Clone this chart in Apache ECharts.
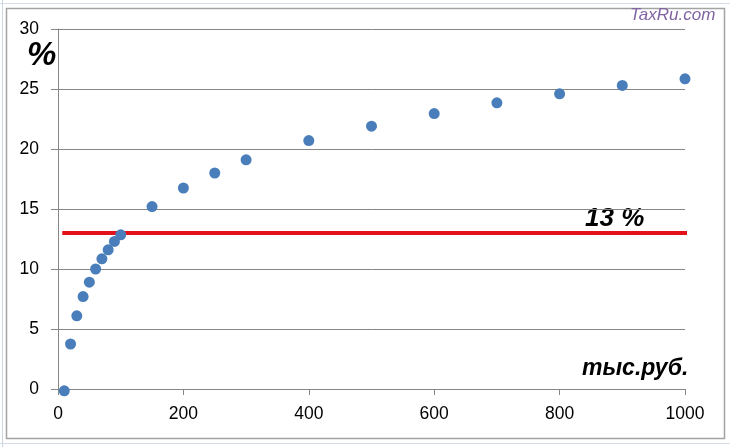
<!DOCTYPE html>
<html>
<head>
<meta charset="utf-8">
<script src="https://cdn.jsdelivr.net/npm/echarts@6/dist/echarts.min.js"></script>
<style>
html,body{margin:0;padding:0;background:#fff;}
#chart{width:730px;height:447px;}
</style>
</head>
<body>
<div id="chart"></div>
<script>
// Income, thousand rubles
var incomes = [10, 20, 30, 40, 50, 60, 70, 80, 90, 100, 150, 200, 250, 300, 400, 500, 600, 700, 800, 900, 1000];
// Effective rate, %
var rates = [-0.15, 3.75, 6.1, 7.7, 8.9, 10.0, 10.85, 11.6, 12.3, 12.85, 15.2, 16.75, 18.0, 19.1, 20.7, 21.9, 22.95, 23.85, 24.6, 25.3, 25.85];
// Flat rate reference line
var flatRateX = [10, 1000];
var flatRate = [13, 13];
var xTicks = [0, 200, 400, 600, 800, 1000];
var yTicks = [0, 5, 10, 15, 20, 25, 30];

var chart = echarts.init(document.getElementById('chart'));
var font = '"Liberation Sans", Arial, sans-serif';
var grey = '#868686';

var option = {
  animation: false,
  backgroundColor: '#ffffff',
  grid: {left: 58, top: 29, width: 627, height: 360, containLabel: false},
  xAxis: {
    type: 'value', min: xTicks[0], max: xTicks[xTicks.length - 1], interval: 200,
    axisLine: {show: true, onZero: false, lineStyle: {color: grey, width: 1}},
    axisTick: {show: true, length: 6, lineStyle: {color: grey}},
    axisLabel: {color: '#000', fontFamily: font, fontSize: 17.5, margin: 16,
      formatter: function (v) { return String(v); }},
    splitLine: {show: false}
  },
  yAxis: {
    type: 'value', min: yTicks[0], max: yTicks[yTicks.length - 1], interval: 5,
    axisLine: {show: true, onZero: false, lineStyle: {color: grey, width: 1}},
    axisTick: {show: true, length: 7, lineStyle: {color: grey}},
    axisLabel: {color: '#000', fontFamily: font, fontSize: 17.5, margin: 19,
      formatter: function (v) { return String(v); }},
    splitLine: {show: true, lineStyle: {color: grey, width: 1}}
  },
  series: [
    {
      type: 'line', z: 2,
      data: flatRateX.map(function (x, i) { return [x, flatRate[i]]; }),
      symbol: 'none',
      lineStyle: {color: '#e3121a', width: 4, cap: 'square'},
      silent: true
    },
    {
      type: 'scatter', z: 3, clip: false,
      data: incomes.map(function (x, i) { return [x, rates[i]]; }),
      symbol: 'circle', symbolSize: 11,
      itemStyle: {color: '#4a7ebb', opacity: 1}
    }
  ],
  graphic: [
    {type: 'line', shape: {x1: 0, y1: 3.5, x2: 730, y2: 3.5}, style: {stroke: '#d6dde8', lineWidth: 1}, silent: true},
    {type: 'line', shape: {x1: 0, y1: 443.5, x2: 730, y2: 443.5}, style: {stroke: '#d6dde8', lineWidth: 1}, silent: true},
    {type: 'line', shape: {x1: 2.5, y1: 0, x2: 2.5, y2: 447}, style: {stroke: '#c9d6dd', lineWidth: 1}, silent: true},
    {type: 'rect', shape: {x: 6.5, y: 8.5, width: 718, height: 430}, style: {fill: 'none', stroke: '#a3a3a3', lineWidth: 1.5}, silent: true},
    {type: 'text', left: 27, top: 39, style: {text: '%', font: 'italic bold 33px ' + font, fill: '#000'}},
    {type: 'text', left: 585, top: 206, style: {text: '13 %', font: 'italic bold 26px ' + font, fill: '#000'}},
    {type: 'text', left: 582, top: 357, style: {text: 'тыс.руб.', font: 'italic bold 23px ' + font, fill: '#000'}},
    {type: 'text', left: 630, top: 7, style: {text: 'TaxRu.com', font: 'italic 17px ' + font, fill: '#8064a2'}}
  ]
};
chart.setOption(option);
</script>
</body>
</html>
